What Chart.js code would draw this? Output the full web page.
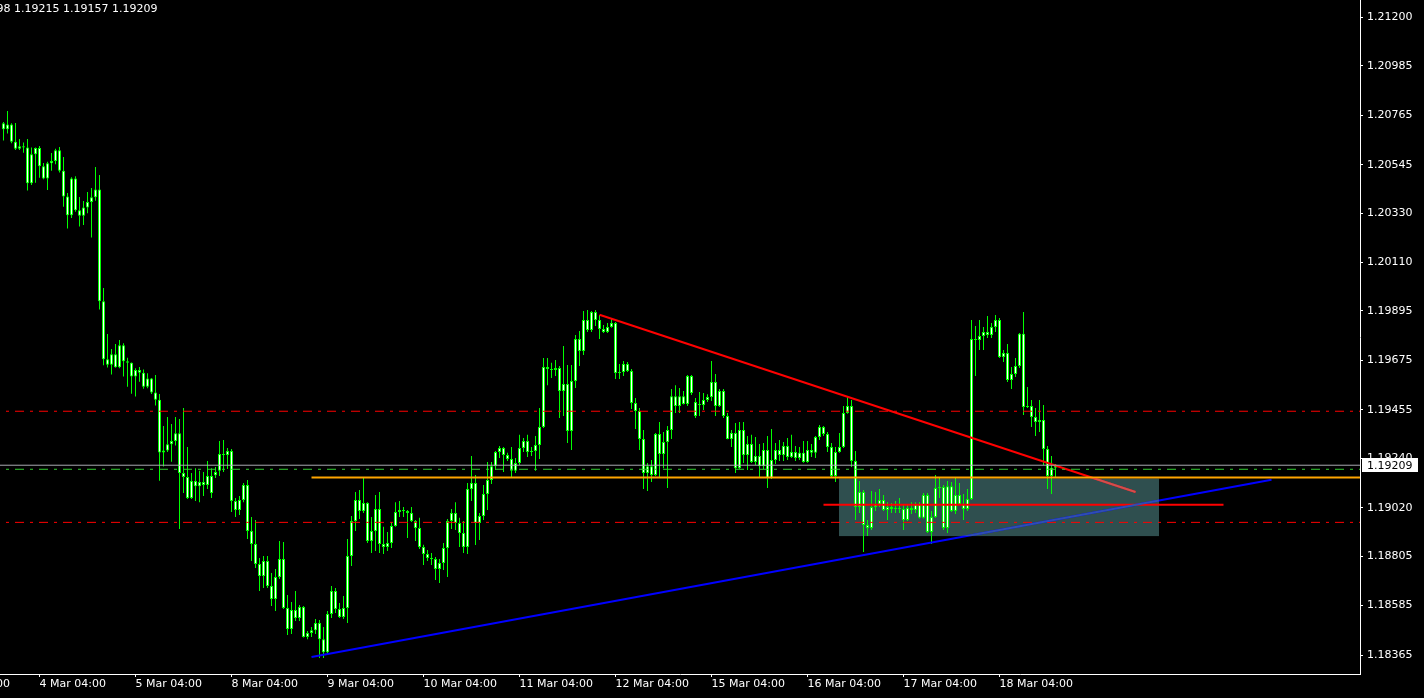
<!DOCTYPE html>
<html>
<head>
<meta charset="utf-8">
<script src="https://cdn.jsdelivr.net/npm/chart.js@4.4.1/dist/chart.umd.min.js"></script>
<style>
html, body { margin: 0; padding: 0; background: #000; overflow: hidden; }
canvas { display: block; }
</style>
</head>
<body>
<canvas id="priceChart" width="1424" height="698"></canvas>
<script>
// H1 candles, 3 Mar 19:00 .. 18 Mar 18:00
const opens = [
  1.20729,1.20702,1.20724,1.20647,1.20616,1.20627,1.20621,1.20462,1.20591,1.20619,
  1.20538,1.20483,1.20551,1.20561,1.20609,1.20518,1.20403,1.20320,1.20484,1.20342,
  1.20318,1.20355,1.20379,1.20400,1.20435,1.19938,1.19680,1.19656,1.19702,1.19644,
  1.19742,1.19671,1.19665,1.19603,1.19632,1.19620,1.19558,1.19595,1.19532,1.19500,
  1.19266,1.19275,1.19302,1.19317,1.19351,1.19175,1.19157,1.19063,1.19139,1.19116,
  1.19134,1.19121,1.19161,1.19165,1.19184,1.19259,1.19255,1.19272,1.19050,1.19010,
  1.19054,1.19121,1.18917,1.18859,1.18770,1.18717,1.18783,1.18672,1.18614,1.18712,
  1.18792,1.18574,1.18481,1.18565,1.18530,1.18579,1.18446,1.18463,1.18476,1.18508,
  1.18436,1.18378,1.18548,1.18650,1.18570,1.18534,1.18574,1.18805,1.18961,1.19054,
  1.19005,1.19041,1.18872,1.18917,1.19014,1.18859,1.18846,1.18863,1.18939,1.19001,
  1.19010,1.19005,1.18997,1.18961,1.18930,1.18846,1.18814,1.18797,1.18792,1.18748,
  1.18774,1.18841,1.18961,1.18997,1.18952,1.18908,1.18846,1.19103,1.19130,1.18952,
  1.18983,1.19081,1.19143,1.19205,1.19268,1.19286,1.19255,1.19237,1.19184,1.19219,
  1.19286,1.19317,1.19268,1.19272,1.19299,1.19379,1.19646,1.19637,1.19632,1.19641,
  1.19539,1.19570,1.19361,1.19583,1.19770,1.19717,1.19855,1.19810,1.19890,1.19855,
  1.19815,1.19801,1.19823,1.19841,1.19619,1.19623,1.19659,1.19628,1.19486,1.19450,
  1.19326,1.19175,1.19205,1.19166,1.19348,1.19259,1.19312,1.19366,1.19516,1.19472,
  1.19516,1.19481,1.19606,1.19490,1.19481,1.19477,1.19499,1.19512,1.19579,1.19472,
  1.19539,1.19428,1.19326,1.19352,1.19196,1.19366,1.19255,1.19303,1.19223,1.19250,
  1.19205,1.19277,1.19152,1.19232,1.19277,1.19255,1.19295,1.19246,1.19268,1.19241,
  1.19264,1.19223,1.19277,1.19264,1.19335,1.19379,1.19348,1.19290,1.19161,1.19268,
  1.19290,1.19441,1.19472,1.19228,1.19023,1.19090,1.18943,1.18930,1.19023,1.19036,
  1.19054,1.19010,1.19023,1.19014,1.19019,1.19014,1.18966,1.19019,1.19010,1.19036,
  1.18975,1.19077,1.18912,1.18979,1.19108,1.19112,1.18930,1.19116,1.19005,1.19077,
  1.19036,1.19014,1.19059,1.19770,1.19766,1.19784,1.19801,1.19788,1.19823,1.19855,
  1.19690,1.19708,1.19588,1.19614,1.19650,1.19793,1.19468,1.19472,1.19423,1.19401,
  1.19410,1.19281,1.19161,1.19198
];
const highs = [
  1.20735,1.20784,1.20729,1.20730,1.20659,1.20644,1.20659,1.20621,1.20621,1.20628,
  1.20553,1.20558,1.20597,1.20616,1.20624,1.20579,1.20419,1.20489,1.20493,1.20401,
  1.20384,1.20424,1.20441,1.20535,1.20499,1.19997,1.19792,1.19726,1.19748,1.19766,
  1.19751,1.19687,1.19666,1.19640,1.19646,1.19635,1.19618,1.19597,1.19610,1.19526,
  1.19383,1.19423,1.19392,1.19423,1.19414,1.19463,1.19290,1.19175,1.19196,1.19184,
  1.19179,1.19228,1.19196,1.19201,1.19317,1.19321,1.19286,1.19281,1.19063,1.19072,
  1.19130,1.19143,1.18979,1.18966,1.18797,1.18805,1.18805,1.18730,1.18748,1.18872,
  1.18868,1.18632,1.18601,1.18650,1.18588,1.18583,1.18472,1.18490,1.18525,1.18521,
  1.18490,1.18561,1.18672,1.18663,1.18597,1.18628,1.18881,1.18983,1.19090,1.19099,
  1.19157,1.19045,1.18979,1.19077,1.19090,1.18935,1.18912,1.18957,1.19045,1.19050,
  1.19023,1.19010,1.19023,1.18966,1.18975,1.18855,1.18832,1.18819,1.18801,1.18792,
  1.18863,1.18970,1.19014,1.19045,1.18975,1.18961,1.19130,1.19250,1.19166,1.18997,
  1.19121,1.19223,1.19223,1.19272,1.19294,1.19290,1.19264,1.19290,1.19241,1.19344,
  1.19330,1.19344,1.19290,1.19339,1.19463,1.19686,1.19686,1.19664,1.19677,1.19650,
  1.19739,1.19655,1.19655,1.19788,1.19806,1.19895,1.19899,1.19895,1.19899,1.19877,
  1.19832,1.19841,1.19864,1.19846,1.19659,1.19672,1.19668,1.19637,1.19508,1.19463,
  1.19366,1.19219,1.19232,1.19352,1.19401,1.19357,1.19383,1.19548,1.19565,1.19552,
  1.19539,1.19610,1.19610,1.19508,1.19534,1.19530,1.19525,1.19672,1.19614,1.19548,
  1.19548,1.19441,1.19366,1.19397,1.19401,1.19401,1.19339,1.19344,1.19335,1.19303,
  1.19308,1.19339,1.19370,1.19308,1.19321,1.19312,1.19330,1.19344,1.19294,1.19290,
  1.19317,1.19317,1.19303,1.19339,1.19388,1.19383,1.19357,1.19308,1.19290,1.19352,
  1.19472,1.19512,1.19499,1.19272,1.19139,1.19099,1.18966,1.19094,1.19090,1.19103,
  1.19077,1.19045,1.19041,1.19050,1.19063,1.19032,1.19032,1.19045,1.19045,1.19045,
  1.19086,1.19086,1.19005,1.19166,1.19157,1.19121,1.19139,1.19134,1.19152,1.19130,
  1.19081,1.19103,1.19855,1.19828,1.19855,1.19823,1.19872,1.19841,1.19877,1.19864,
  1.19721,1.19748,1.19646,1.19686,1.19797,1.19890,1.19557,1.19499,1.19463,1.19499,
  1.19477,1.19294,1.19250,1.19215
];
const lows = [
  1.20652,1.20684,1.20640,1.20610,1.20610,1.20598,1.20430,1.20455,1.20465,1.20487,
  1.20480,1.20432,1.20518,1.20547,1.20510,1.20358,1.20261,1.20308,1.20336,1.20270,
  1.20277,1.20329,1.20221,1.20385,1.19901,1.19653,1.19643,1.19612,1.19642,1.19640,
  1.19603,1.19558,1.19527,1.19514,1.19580,1.19549,1.19551,1.19526,1.19474,1.19140,
  1.19203,1.19268,1.19225,1.19297,1.18926,1.19086,1.19059,1.19059,1.19050,1.19045,
  1.19072,1.19103,1.19063,1.19152,1.19161,1.19179,1.19192,1.19001,1.18979,1.18988,
  1.19045,1.18881,1.18783,1.18752,1.18650,1.18663,1.18663,1.18583,1.18561,1.18703,
  1.18570,1.18454,1.18459,1.18517,1.18517,1.18443,1.18436,1.18446,1.18459,1.18352,
  1.18352,1.18370,1.18530,1.18552,1.18530,1.18525,1.18508,1.18761,1.18917,1.18970,
  1.18997,1.18863,1.18819,1.18828,1.18819,1.18814,1.18828,1.18841,1.18935,1.18979,
  1.18979,1.18886,1.18957,1.18872,1.18837,1.18766,1.18783,1.18766,1.18699,1.18685,
  1.18743,1.18712,1.18926,1.18921,1.18846,1.18819,1.18814,1.19050,1.18854,1.18877,
  1.18966,1.19010,1.19126,1.19188,1.19241,1.19179,1.19228,1.19157,1.19175,1.19210,
  1.19268,1.19246,1.19250,1.19184,1.19237,1.19375,1.19565,1.19597,1.19606,1.19419,
  1.19428,1.19308,1.19277,1.19552,1.19650,1.19699,1.19801,1.19801,1.19828,1.19770,
  1.19797,1.19797,1.19820,1.19592,1.19592,1.19606,1.19623,1.19459,1.19370,1.19277,
  1.19103,1.19094,1.19134,1.19161,1.19152,1.19196,1.19108,1.19326,1.19441,1.19441,
  1.19479,1.19472,1.19521,1.19419,1.19428,1.19454,1.19490,1.19494,1.19428,1.19468,
  1.19419,1.19324,1.19290,1.19175,1.19192,1.19219,1.19188,1.19219,1.19210,1.19157,
  1.19192,1.19108,1.19148,1.19214,1.19228,1.19228,1.19232,1.19241,1.19228,1.19232,
  1.19220,1.19220,1.19246,1.19241,1.19321,1.19339,1.19268,1.19157,1.19134,1.19264,
  1.19286,1.19438,1.19201,1.18966,1.18997,1.18823,1.18894,1.18921,1.19005,1.19023,
  1.19005,1.18966,1.18997,1.18997,1.18997,1.18921,1.18961,1.18992,1.18997,1.18972,
  1.18972,1.18908,1.18859,1.18975,1.19063,1.18921,1.18908,1.19001,1.18992,1.19032,
  1.18966,1.19005,1.19055,1.19606,1.19721,1.19721,1.19775,1.19775,1.19801,1.19686,
  1.19668,1.19579,1.19548,1.19601,1.19641,1.19432,1.19463,1.19379,1.19339,1.19357,
  1.19210,1.19103,1.19081,1.19157
];
const closes = [
  1.20702,1.20724,1.20647,1.20616,1.20627,1.20621,1.20462,1.20591,1.20619,1.20538,
  1.20483,1.20551,1.20561,1.20609,1.20518,1.20403,1.20320,1.20484,1.20342,1.20318,
  1.20355,1.20379,1.20400,1.20435,1.19938,1.19680,1.19656,1.19702,1.19644,1.19742,
  1.19671,1.19665,1.19603,1.19632,1.19620,1.19558,1.19595,1.19532,1.19500,1.19266,
  1.19275,1.19302,1.19317,1.19351,1.19175,1.19157,1.19063,1.19139,1.19116,1.19134,
  1.19121,1.19161,1.19086,1.19179,1.19259,1.19255,1.19272,1.19050,1.19010,1.19054,
  1.19121,1.18917,1.18859,1.18770,1.18717,1.18783,1.18672,1.18614,1.18712,1.18792,
  1.18574,1.18481,1.18565,1.18530,1.18579,1.18446,1.18463,1.18476,1.18508,1.18436,
  1.18378,1.18548,1.18650,1.18570,1.18534,1.18574,1.18805,1.18961,1.19054,1.19005,
  1.19041,1.18872,1.18917,1.19014,1.18859,1.18846,1.18863,1.18939,1.19001,1.19010,
  1.19005,1.18997,1.18961,1.18930,1.18846,1.18814,1.18797,1.18792,1.18748,1.18774,
  1.18841,1.18961,1.18997,1.18952,1.18908,1.18846,1.19103,1.19130,1.18952,1.18983,
  1.19081,1.19143,1.19205,1.19268,1.19286,1.19255,1.19237,1.19184,1.19219,1.19286,
  1.19317,1.19268,1.19272,1.19299,1.19379,1.19646,1.19637,1.19632,1.19641,1.19539,
  1.19570,1.19361,1.19583,1.19770,1.19717,1.19855,1.19810,1.19890,1.19855,1.19815,
  1.19801,1.19823,1.19841,1.19619,1.19623,1.19659,1.19628,1.19486,1.19450,1.19326,
  1.19175,1.19205,1.19166,1.19348,1.19259,1.19312,1.19366,1.19516,1.19472,1.19516,
  1.19481,1.19606,1.19530,1.19428,1.19477,1.19499,1.19512,1.19579,1.19472,1.19539,
  1.19428,1.19326,1.19352,1.19196,1.19366,1.19255,1.19303,1.19223,1.19250,1.19205,
  1.19277,1.19152,1.19232,1.19277,1.19255,1.19295,1.19246,1.19268,1.19241,1.19264,
  1.19223,1.19277,1.19264,1.19335,1.19379,1.19348,1.19290,1.19161,1.19268,1.19290,
  1.19441,1.19472,1.19228,1.19023,1.19090,1.18943,1.18930,1.19023,1.19036,1.19054,
  1.19010,1.19023,1.19014,1.19019,1.19014,1.18966,1.19019,1.19010,1.19036,1.18975,
  1.19077,1.18912,1.18979,1.19108,1.19112,1.18930,1.19116,1.19005,1.19077,1.19036,
  1.19014,1.19059,1.19770,1.19766,1.19784,1.19801,1.19788,1.19823,1.19855,1.19690,
  1.19708,1.19588,1.19614,1.19650,1.19793,1.19468,1.19472,1.19423,1.19401,1.19410,
  1.19281,1.19161,1.19198,1.19209
];

// time axis: one label per trading day at 04:00, 24 candles per day
const dayLabels = ['3 Mar', '4 Mar', '5 Mar', '8 Mar', '9 Mar', '10 Mar', '11 Mar', '12 Mar', '15 Mar', '16 Mar', '17 Mar', '18 Mar'];
const labelTime = '04:00';
const firstLabelIndex = -15;
const candlesPerDay = 24;

const priceTicks = [1.21200, 1.20985, 1.20765, 1.20545, 1.20330, 1.20110, 1.19895, 1.19675, 1.19455, 1.19240, 1.19020, 1.18805, 1.18585, 1.18365];

// visible range (chart is shifted, empty space on the right)
const xMin = -0.875, xMax = 339.125;
const yMin = 1.18281, yMax = 1.21277;

// drawn objects
const redTrend = [{x: 149, y: 1.19878}, {x: 283, y: 1.19090}];
const blueTrend = [{x: 77, y: 1.18357}, {x: 317, y: 1.19144}];
const orangeLevel = {from: 77, price: 1.19154};
const redSegment = {from: 205, to: 305, price: 1.19033};
const dashedLevels = [
    {price: 1.19449, color: '#ff0000'},
    {price: 1.19191, color: '#32cd32'},
    {price: 1.18955, color: '#ff0000'}
];
const zone = {from: 208.875, to: 288.875, top: 1.19150, bottom: 1.18894};

const last = closes.length - 1;
const fmt = v => v.toFixed(5);

Chart.defaults.font.family = 'DejaVu Sans';
Chart.defaults.font.size = 11;
Chart.defaults.color = '#ffffff';

const blackBackground = {
    id: 'blackBackground',
    beforeDraw: (chart) => {
        const c = chart.ctx;
        c.save();
        c.fillStyle = '#000';
        c.fillRect(0, 0, chart.width, chart.height);
        c.restore();
    }
};

const zoneRect = (chart) => {
    const {x, y} = chart.scales;
    const l = x.getPixelForValue(zone.from), r = x.getPixelForValue(zone.to);
    const t = y.getPixelForValue(zone.top), b = y.getPixelForValue(zone.bottom);
    return {l, t, w: r - l, h: b - t};
};

const zoneBox = {
    id: 'zoneBox',
    beforeDatasetsDraw: (chart) => {
        const c = chart.ctx;
        const z = zoneRect(chart);
        c.save();
        c.fillStyle = '#2f4f4f';
        c.fillRect(z.l, z.t, z.w, z.h);
        c.restore();
    },
    // trend lines are drawn xor-like where they cross the zone
    afterDatasetsDraw: (chart) => {
        const {x, y} = chart.scales;
        const c = chart.ctx;
        const z = zoneRect(chart);
        c.save();
        c.beginPath();
        c.rect(z.l, z.t, z.w, z.h);
        c.clip();
        [[redTrend, '#d04f4f'], [blueTrend, '#2f4fb0']].forEach(([pts, col]) => {
            c.strokeStyle = col;
            c.lineWidth = 2;
            c.beginPath();
            c.moveTo(x.getPixelForValue(pts[0].x), y.getPixelForValue(pts[0].y));
            c.lineTo(x.getPixelForValue(pts[1].x), y.getPixelForValue(pts[1].y));
            c.stroke();
        });
        c.restore();
    }
};

const infoText = {
    id: 'infoText',
    afterDraw: (chart) => {
        const c = chart.ctx;
        c.save();
        c.font = '11px "DejaVu Sans"';
        c.fillStyle = '#fff';
        c.textBaseline = 'alphabetic';
        c.textAlign = 'left';
        c.fillText([opens[last], highs[last], lows[last], closes[last]].map(fmt).join(' '), -35, 12);
        // last price box on the price axis
        const py = chart.scales.y.getPixelForValue(closes[last]);
        c.fillStyle = '#fff';
        c.fillRect(1362, Math.round(py) - 7, 56, 14);
        c.fillStyle = '#000';
        c.textBaseline = 'middle';
        c.fillText(fmt(closes[last]), 1367, py + 0.5);
        c.restore();
    }
};

const lineSet = (data, color, width, dash) => ({
    type: 'line',
    data: data,
    borderColor: color,
    borderWidth: width,
    borderDash: dash || [],
    borderDashOffset: dash ? 18 : 0,
    pointRadius: 0,
    fill: false,
    order: 0
});

const datasets = [
    ...dashedLevels.map(d => lineSet([{x: xMin, y: d.price}, {x: xMax, y: d.price}], d.color, 1, [3, 6, 9, 6])),
    lineSet([{x: xMin, y: closes[last]}, {x: xMax, y: closes[last]}], '#a8a8b0', 1),
    lineSet([{x: orangeLevel.from, y: orangeLevel.price}, {x: xMax, y: orangeLevel.price}], '#ffa500', 2),
    lineSet([{x: redSegment.from, y: redSegment.price}, {x: redSegment.to, y: redSegment.price}], '#ff0000', 2),
    lineSet(redTrend, '#ff0000', 2),
    lineSet(blueTrend, '#0000ff', 2),
    {
        type: 'bar',
        data: opens.map((o, i) => ({x: i, y: [Math.min(o, closes[i]), Math.max(o, closes[i])]})),
        backgroundColor: '#ffffff',
        borderColor: '#00ff00',
        borderWidth: 1,
        borderSkipped: false,
        barThickness: 3,
        inflateAmount: 0,
        minBarLength: 1,
        grouped: false,
        order: 1
    },
    {
        type: 'bar',
        data: opens.map((o, i) => ({x: i, y: [lows[i], highs[i]]})),
        backgroundColor: '#00ff00',
        borderWidth: 0,
        barThickness: 1,
        inflateAmount: 0,
        grouped: false,
        order: 2
    }
];

new Chart(document.getElementById('priceChart'), {
    type: 'bar',
    data: {datasets: datasets},
    options: {
        responsive: false,
        animation: false,
        devicePixelRatio: 1,
        layout: {padding: 0},
        plugins: {legend: {display: false}, tooltip: {enabled: false}},
        scales: {
            x: {
                type: 'linear',
                min: xMin,
                max: xMax,
                offset: false,
                grid: {drawOnChartArea: false, color: '#fff', tickLength: 3, offset: false},
                border: {color: '#fff'},
                ticks: {
                    align: 'start',
                    autoSkip: false,
                    maxRotation: 0,
                    padding: 1,
                    color: '#fff',
                    callback: (v, i) => dayLabels[i] + ' ' + labelTime
                },
                afterBuildTicks: (scale) => {
                    scale.ticks = dayLabels.map((d, k) => ({value: firstLabelIndex + k * candlesPerDay}));
                },
                afterFit: (scale) => {
                    scale.height = 24;
                    scale.paddingLeft = 0;
                    scale.paddingRight = 0;
                }
            },
            y: {
                position: 'right',
                min: yMin,
                max: yMax,
                beginAtZero: false,
                grid: {drawOnChartArea: false, color: '#fff', tickLength: 3},
                border: {color: '#fff'},
                ticks: {
                    autoSkip: false,
                    padding: 4,
                    color: '#fff',
                    callback: (v) => fmt(v)
                },
                afterBuildTicks: (scale) => {
                    scale.ticks = priceTicks.map(v => ({value: v}));
                },
                afterFit: (scale) => {
                    scale.width = 64;
                    scale.paddingTop = 0;
                    scale.paddingBottom = 0;
                }
            }
        }
    },
    plugins: [blackBackground, zoneBox, infoText]
});
</script>
</body>
</html>
